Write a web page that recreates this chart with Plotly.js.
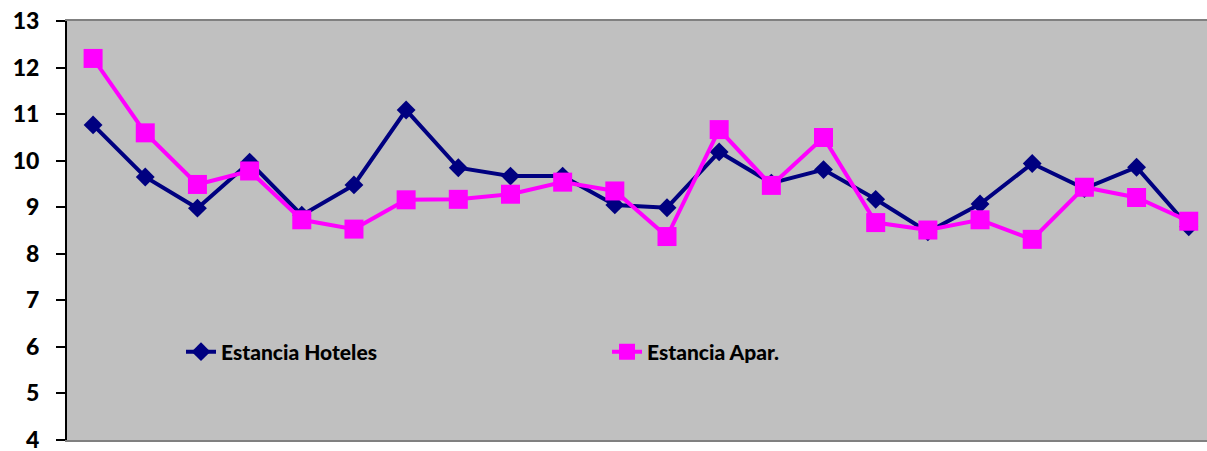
<!DOCTYPE html>
<html>
<head>
<meta charset="utf-8">
<script src="https://cdn.plot.ly/plotly-3.0.1.min.js"></script>
<style>html,body{margin:0;padding:0;background:#fff;}#chart{width:1207px;height:451px;}</style>
</head>
<body>
<div id="chart"></div>
<script>
const categories = ["1","2","3","4","5","6","7","8","9","10","11","12","13","14","15","16","17","18","19","20","21","22"];
const hoteles = [10.77, 9.65, 8.98, 9.97, 8.83, 9.48, 11.09, 9.85, 9.67, 9.67, 9.05, 8.99, 10.19, 9.52, 9.81, 9.17, 8.47, 9.07, 9.94, 9.40, 9.86, 8.58];
const apar = [12.20, 10.60, 9.49, 9.78, 8.73, 8.53, 9.16, 9.17, 9.28, 9.54, 9.35, 8.37, 10.67, 9.47, 10.50, 8.67, 8.51, 8.73, 8.31, 9.43, 9.21, 8.70];
const seriesNames = ["Estancia Hoteles", "Estancia Apar."];
const yTicks = [4,5,6,7,8,9,10,11,12,13];

const fontFam = "Lato, 'Noto Sans', sans-serif";
const traces = [
  {x: categories.map((c,i)=>i), y: hoteles, name: seriesNames[0], type: 'scatter', mode: 'lines+markers',
   line: {color: '#000080', width: 4}, marker: {symbol: 'diamond', size: 14.5, color: '#000080'}},
  {x: categories.map((c,i)=>i), y: apar, name: seriesNames[1], type: 'scatter', mode: 'lines+markers',
   line: {color: '#FF00FF', width: 4}, marker: {symbol: 'square', size: 19, color: '#FF00FF'}}
];
const layout = {
  width: 1207, height: 451,
  margin: {l: 67, r: 0, t: 21, b: 11},
  paper_bgcolor: '#ffffff', plot_bgcolor: '#C0C0C0',
  showlegend: true,
  legend: {orientation: 'h', x: 0.1, y: 0.21, xanchor: 'left', yanchor: 'middle',
    bgcolor: 'rgba(0,0,0,0)', entrywidth: 381, entrywidthmode: 'pixels',
    font: {family: fontFam, size: 21, color: '#000', weight: 900}},
  xaxis: {range: [-0.5, 21.35], showticklabels: false, ticks: '', showgrid: false, zeroline: false,
    showline: true, linecolor: '#808080', linewidth: 2, mirror: true, fixedrange: true},
  yaxis: {range: [3.995, 13.005], tickvals: yTicks, ticktext: yTicks.map(String), showgrid: false, zeroline: false,
    showline: true, linecolor: '#000', linewidth: 2, ticks: 'outside', ticklen: 9, tickwidth: 2, tickcolor: '#000',
    ticklabelstandoff: 12, ticklabeloverflow: 'allow',
    tickfont: {family: fontFam, size: 23, color: '#000', weight: 900}, fixedrange: true}
};
Plotly.newPlot('chart', traces, layout, {displayModeBar: false, staticPlot: true});
</script>
</body>
</html>
